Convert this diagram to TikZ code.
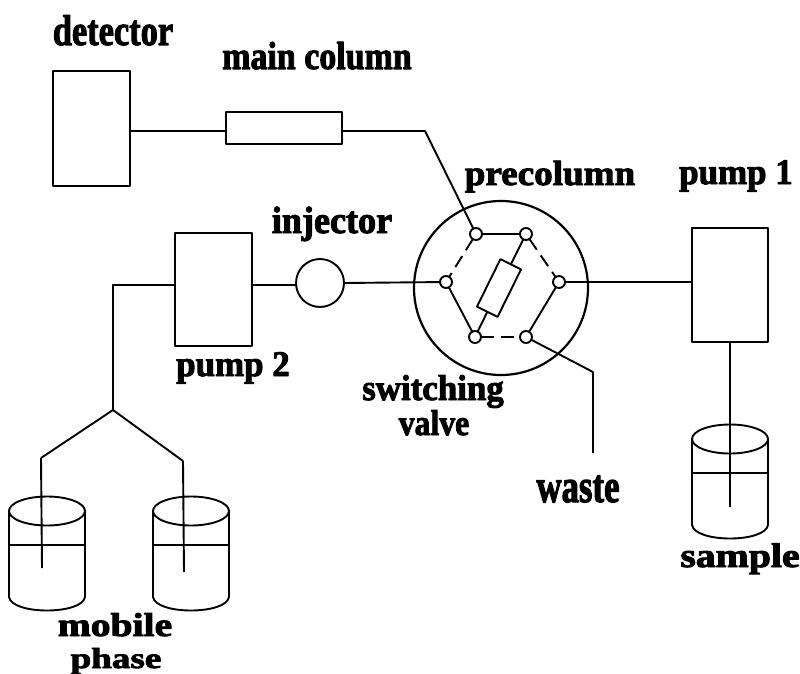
\documentclass[tikz,border=0pt]{standalone}
\usepackage{fontspec}
\setmainfont{Liberation Serif}[BoldFeatures={FakeBold=2.6}]
\usetikzlibrary{calc}

\begin{document}
\begin{tikzpicture}[x=1pt, y=-1pt, line join=round, line width=1.9pt]

  % Colors and styles
  \tikzset{
    unit-box/.style={draw, inner sep=0pt, outer sep=0pt, fill=white},
    port/.style={draw, circle, fill=white, inner sep=0pt, outer sep=0pt, minimum size=12pt},
    dash-line/.style={dash pattern=on 13pt off 7pt},
    lbl/.style 2 args={font=\fontsize{#1}{#1}\bfseries\selectfont, anchor=base, inner sep=0pt, xscale=#2},
  }

  \useasboundingbox (0,0) rectangle (800,674);

  % Units
  \node[unit-box, minimum width=77pt, minimum height=115pt] (detector) at (91.5,128.5) {};
  \node[unit-box, minimum width=116pt, minimum height=32pt] (maincol) at (284,128) {};
  \node[unit-box, minimum width=77pt, minimum height=113pt] (pumpB) at (213.5,289.5) {};
  \node[unit-box, minimum width=76pt, minimum height=114pt] (pumpA) at (730,285) {};
  \node[draw, circle, inner sep=0pt, outer sep=0pt, minimum size=48pt] (injector) at (320,283) {};

  % Switching valve
  \node[draw, circle, line width=2.2pt, inner sep=0pt, outer sep=0pt, minimum size=174pt] (valve) at (501,288) {};
  \node[port] (portTL) at (476,234) {};
  \node[port] (portTR) at (526,234) {};
  \node[port] (portL) at (446,282) {};
  \node[port] (portR) at (559,282) {};
  \node[port] (portBL) at (475,337) {};
  \node[port] (portBR) at (526,337) {};
  \node[unit-box, rotate=63.7, minimum width=53pt, minimum height=23pt] (precol) at (499,288) {};

  \draw (portTL) -- (portTR);
  \draw (portL) -- (portBL);
  \draw (portR) -- (portBR);
  \draw[dash-line] (portTL) -- (portL);
  \draw[dash-line] (portTR) -- (portR);
  \draw[dash-line] (portBL) -- (portBR);
  \draw (portTR) -- (precol);
  \draw (precol) -- (portBL);

  % Tubing
  \coordinate (bendA) at (425,131);
  \coordinate (bendB) at (113,285);
  \coordinate (fork) at (113,410);
  \coordinate (bendW) at (593,372);
  \coordinate (wasteEnd) at (593,453);
  \coordinate (forkL) at (41,458);
  \coordinate (forkR) at (183,461);
  \coordinate (tubeL) at (42,568);
  \coordinate (tubeR) at (184,572);
  \coordinate (tubeS) at (730,507);

  \draw (bendA -| detector.east) -- (bendA -| maincol.west);
  \draw (bendA -| maincol.east) -- (bendA) -- (portTL);
  \draw (bendB -| pumpB.west) -- (bendB) -- (fork);
  \draw (bendB -| pumpB.east) -- (bendB -| injector.west);
  \draw (injector.east) -- (portL);
  \draw (portR) -- (portR -| pumpA.west);
  \draw (portBR) -- (bendW) -- (wasteEnd);
  \draw (forkL) -- (fork) -- (forkR);
  \draw (forkL) -- (tubeL);
  \draw (forkR) -- (tubeR);
  \draw (pumpA.south) -- (tubeS);

  % Vessels
  \foreach \cx/\cy in {47/511, 191/511, 730/439} {
    \pgfmathsetmacro{\xl}{\cx-38}
    \pgfmathsetmacro{\xr}{\cx+38}
    \draw (\cx,\cy) circle[x radius=38, y radius=14.5];
    \draw (\xl,\cy) -- (\xl,\cy+86) .. controls (\xl+3,\cy+104) and (\xr-3,\cy+104) .. (\xr,\cy+86) -- (\xr,\cy);
    \draw (\xl,\cy+34) -- (\xr,\cy+34);
  }

  % Labels
  \node[lbl={43}{.8}] (lbldetector) at (113,45) {detector};
  \node[lbl={39}{.87}] (lblmaincol) at (317,69) {main column};
  \node[lbl={38}{.95}] (lblinjector) at (332,233) {injector};
  \node[lbl={35}{1.06}] (lblprecol) at (550,185) {precolumn};
  \node[lbl={36}{.97}] (lblpumpA) at (736,184) {pump 1};
  \node[lbl={36}{.97}] (lblpumpB) at (233,376) {pump 2};
  \node[lbl={36}{.97}] (lblswitch) at (433,400) {switching};
  \node[lbl={36}{.88}] (lblvalve) at (434,435) {valve};
  \node[lbl={47}{.74}] (lblwaste) at (578,502) {waste};
  \node[lbl={34}{1.17}] (lblsample) at (740,567) {sample};
  \node[lbl={33}{1.2}] (lblmobile) at (115,636) {mobile};
  \node[lbl={29}{1.28}] (lblphase) at (116,668) {phase};

\end{tikzpicture}
\end{document}
